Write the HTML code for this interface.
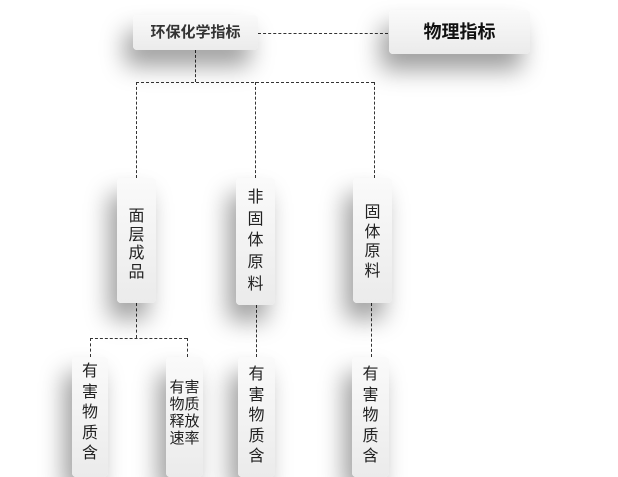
<!DOCTYPE html>
<html><head><meta charset="utf-8"><style>
body{margin:0;width:618px;height:457px;background:#fff;position:relative;overflow:hidden;font-family:"Liberation Sans","Noto Sans CJK SC",sans-serif;color:#222}
.b{position:absolute;background:linear-gradient(#fafafa,#ebebeb);border-radius:4px;box-shadow:-8px 16px 24px rgba(0,0,0,.38);text-align:center}
.v{font-size:16px}
.h{position:absolute;border-top:1px dashed #333}
.l{position:absolute;border-left:1px dashed #333}
</style></head><body>
<div class="h" style="left:258px;top:33px;width:130px"></div>
<div class="l" style="left:195px;top:50px;height:32px"></div>
<div class="h" style="left:136px;top:82px;width:238px"></div>
<div class="l" style="left:136px;top:82px;height:96px"></div>
<div class="l" style="left:255px;top:82px;height:96px"></div>
<div class="l" style="left:374px;top:82px;height:96px"></div>
<div class="l" style="left:136px;top:303px;height:35px"></div>
<div class="h" style="left:90px;top:338px;width:97px"></div>
<div class="l" style="left:90px;top:338px;height:19px"></div>
<div class="l" style="left:187px;top:338px;height:19px"></div>
<div class="l" style="left:256px;top:305px;height:52px"></div>
<div class="l" style="left:371px;top:303px;height:54px"></div>

<div class="b" style="left:133px;top:15px;width:125px;height:35px;line-height:35px;font-size:15px;font-weight:bold;color:#333">环保化学指标</div>
<div class="b" style="left:389px;top:10px;width:141px;height:44px;line-height:44px;font-size:18px;font-weight:bold;color:#111">物理指标</div>

<div class="b v" style="left:117px;top:178px;width:39px;height:125px"><div style="padding-top:30px;line-height:18.5px">面<br>层<br>成<br>品</div></div>
<div class="b v" style="left:236px;top:178px;width:39px;height:127px"><div style="padding-top:9px;line-height:21.7px">非<br>固<br>体<br>原<br>料</div></div>
<div class="b v" style="left:353px;top:178px;width:39px;height:125px"><div style="padding-top:25px;line-height:19.6px">固<br>体<br>原<br>料</div></div>

<div class="b v" style="left:72px;top:357px;width:36px;height:120px"><div style="padding-top:5px;line-height:20.5px">有<br>害<br>物<br>质<br>含</div></div>
<div class="b" style="left:166px;top:357px;width:37px;height:120px;font-size:15px;line-height:17px"><div style="padding-top:22px">有害<br>物质<br>释放<br>速率</div></div>
<div class="b v" style="left:238px;top:357px;width:37px;height:120px"><div style="padding-top:8px;line-height:20.5px">有<br>害<br>物<br>质<br>含</div></div>
<div class="b v" style="left:352px;top:357px;width:37px;height:120px"><div style="padding-top:8px;line-height:20.5px">有<br>害<br>物<br>质<br>含</div></div>
</body></html>
